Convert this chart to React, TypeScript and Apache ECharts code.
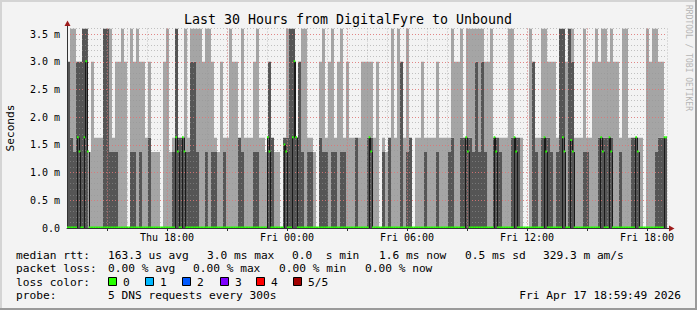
import React, { useEffect, useRef } from "react";
import * as echarts from "echarts";

// ---------------- data ----------------
const titleText = "Last 30 Hours from DigitalFyre to Unbound";
const yAxisName = "Seconds";
const watermarkText = "RRDTOOL / TOBI OETIKER";

const spanHours = 30; // Thu 13:00 -> Fri 19:00
const yMax = 3.6; // ms
const columnHours = 0.15; // smoke column width (hours)
const sampleHours = 5 / 60; // one probe every 300 s

// smoke band boundaries (ms)
const zoneLevels = [0, 1.37, 1.63, 3.0, 3.6];

// colour of each smoke band per column: d = dark smoke, l = light smoke, w = none
const zone1Colors = [
  "dddddddlll", "lldddddlll", "wddldlldll", "lwlllddddd", "ddddlldldd",
  "lldllllddl", "llddlllddl", "lwdddddddl", "ddlwdddldd", "lddllldlll",
  "ddllwdldll", "ldlddwllld", "llldlllddl", "lddddddddd", "lldddllldd",
  "dlwwlddldd", "ddldddlddl", "llddlllddd", "ddlldllldd", "dlwllldddd",
];
const zone2Colors = [
  "ddlddddwll", "llddllllll", "wlllllldww", "wwllwldddl", "lddlllllll",
  "wlllllldll", "llllllwddw", "wwddddddll", "llwwdlllll", "lllllldlll",
  "ddllwlwdll", "ldlldwllll", "lllllllldl", "lddddldldl", "llddlllldd",
  "dlwwldlldd", "dlllddlddl", "lllllllddd", "ddlllllldd", "llwllllddd",
];
const zone3Colors = [
  "dllddddwlw", "wwddlwllll", "wlllllwlww", "wwllwwdwwl", "wddllllllw",
  "wlwwlllwlw", "wwllwwwdww", "wwwlddwdll", "wwwwllwllw", "llwlwwwwll",
  "llwlwwwwlw", "ldwlwwwwlw", "wwwlwwwwll", "llwllldldl", "llwwwwwllw",
  "wwwwldwwll", "lllwddlddw", "wwlwwlllll", "llllwllwww", "wwwllllllw",
];
const zone4Colors = [
  "wllwwddwww", "wwddlwwwlw", "wlwlwwwwww", "wwwlwwdwwl", "wllllwllww",
  "wwwwlwwwlw", "wwwlwwwwww", "wwwlddwwll", "wwwwwlwwlw", "wlwwwwwwww",
  "wwwwwwwwlw", "lwwlwwwwww", "wwwwwwwwlw", "wlwllllllw", "wlwwwwwllw",
  "wwwwlwwwll", "wwwwddwdlw", "wwlwwwlwll", "wlwwwllwww", "wwwlwllwww",
];

// median rtt: non-zero samples (index of 5-minute sample, value in ms); all others 0
const medianSampleIndex = [
  6, 7, 10, 11, 12, 65, 66, 69, 70, 120, 121, 130, 131, 135, 136, 137, 181, 182, 239, 240,
  256, 257, 268, 269, 286, 287, 297, 298, 302, 303, 320, 321, 325, 326, 341, 342, 358, 359,
];
const medianSampleValue = [
  1.63, 1.37, 1.63, 3.0, 1.37, 1.63, 1.37, 1.63, 1.37, 1.63, 1.37, 1.5, 1.37, 1.63, 3.0, 1.63, 1.63, 1.37, 1.63, 1.37,
  1.63, 1.37, 1.63, 1.37, 1.63, 1.37, 1.63, 1.37, 1.58, 1.37, 1.63, 1.37, 1.63, 1.37, 1.63, 1.37, 1.63, 1.63,
];

const majorGridHours = [2, 5, 8, 11, 14, 17, 20, 23, 26, 29];
const xLabelHours = [5, 11, 17, 23, 29];
const xLabelTexts = ["Thu 18:00", "Fri 00:00", "Fri 06:00", "Fri 12:00", "Fri 18:00"];

const rttLabel = "median rtt:";
const rttItems = ["163.3 us avg", "3.0 ms max", "0.0  s min", "1.6 ms now", "0.5 ms sd", "329.3 m am/s"];
const lossLabel = "packet loss:";
const lossItems = ["0.00 % avg", "0.00 % max", "0.00 % min", "0.00 % now"];
const lossColorLabel = "loss color:";
const lossColorNames = ["0", "1", "2", "3", "4", "5/5"];
const lossColorValues = ["#26ff00", "#00b8ff", "#0059ff", "#7e00ff", "#ff0000", "#a10000"];
const probeLabel = "probe:";
const probeText = "5 DNS requests every 300s";
const dateText = "Fri Apr 17 18:59:49 2026";

// ---------------- layout / style ----------------
const W = 697;
const H = 310;
const FONT = "DejaVu Sans Mono";
const DARK = "#555555";
const LIGHT = "#a5a5a5";
const MINOR = "rgba(150,150,150,0.55)";
const MAJOR = "rgba(240,110,110,0.7)";
const AXIS = "#333333";
const ARROW = "#9e1b1b";
const GREEN = "#26ff00";
const legendFont = `11.2px "${FONT}"`;
const rttX = [108, 207, 292, 379, 465, 543];
const lossX = [108, 193, 279, 365];
const boxX = [108, 145, 182, 220, 256, 293];
const rowY = [255, 268.5, 282, 295.5];

function buildOption() {
  const zones = [zone1Colors, zone2Colors, zone3Colors, zone4Colors].map((z) => z.join(""));
  const nCols = zones[0].length;
  const smoke: number[][] = [];
  for (let c = 0; c < nCols; c++) {
    let z = 0;
    while (z < 4) {
      const ch = zones[z][c];
      let e = z;
      while (e + 1 < 4 && zones[e + 1][c] === ch) e++;
      if (ch !== "w") {
        smoke.push([c * columnHours, (c + 1) * columnHours, zoneLevels[z], zoneLevels[e + 1], ch === "d" ? 1 : 0]);
      }
      z = e + 1;
    }
  }

  const sampleCount = Math.round(spanHours / sampleHours);
  const med: number[] = new Array(sampleCount).fill(0);
  medianSampleIndex.forEach((k, i) => {
    med[k] = medianSampleValue[i];
  });
  const medData = med.map((v, k) => [k * sampleHours, v, k > 0 ? med[k - 1] : v]);

  const textEl = (text: string, x: number, y: number, align = "left", font = legendFont) => ({
    type: "text",
    x,
    y,
    silent: true,
    style: { text, fill: "#000", font, textAlign: align, textVerticalAlign: "middle" },
  });

  const graphic: any[] = [
    // frame shading
    { type: "rect", shape: { x: 0, y: 0, width: W, height: 2 }, style: { fill: "#d4d4d4" }, silent: true },
    { type: "rect", shape: { x: 0, y: 0, width: 2, height: H }, style: { fill: "#d4d4d4" }, silent: true },
    { type: "rect", shape: { x: W - 2, y: 0, width: 2, height: H }, style: { fill: "#9a9a9a" }, silent: true },
    { type: "rect", shape: { x: 0, y: H - 2, width: W, height: 2 }, style: { fill: "#9a9a9a" }, silent: true },
    // title
    textEl(titleText, 348, 19, "center", `13.3px "${FONT}"`),
    {
      type: "text",
      x: 10,
      y: 128,
      rotation: Math.PI / 2,
      silent: true,
      style: { text: yAxisName, fill: "#000", font: legendFont, textAlign: "center", textVerticalAlign: "middle" },
    },
    {
      type: "text",
      x: 688,
      y: 58,
      rotation: -Math.PI / 2,
      silent: true,
      style: { text: watermarkText, fill: "#b5b5b5", font: `8px "${FONT}"`, textAlign: "center", textVerticalAlign: "middle" },
    },
    // axis extensions and arrows
    { type: "line", shape: { x1: 67.5, y1: 29, x2: 67.5, y2: 24 }, style: { stroke: AXIS, lineWidth: 1 }, silent: true, z: 20 },
    { type: "polygon", shape: { points: [[64.5, 26], [70.5, 26], [67.5, 20.5]] }, style: { fill: ARROW }, silent: true, z: 21 },
    { type: "line", shape: { x1: 667, y1: 228.5, x2: 670, y2: 228.5 }, style: { stroke: AXIS, lineWidth: 1 }, silent: true, z: 20 },
    { type: "polygon", shape: { points: [[669, 225.5], [669, 231.5], [674.5, 228.5]] }, style: { fill: ARROW }, silent: true, z: 21 },
    // legend
    textEl(rttLabel, 16, rowY[0]),
    ...rttItems.map((t, i) => textEl(t, rttX[i], rowY[0])),
    textEl(lossLabel, 16, rowY[1]),
    ...lossItems.map((t, i) => textEl(t, lossX[i], rowY[1])),
    textEl(lossColorLabel, 16, rowY[2]),
    ...lossColorNames.map((t, i) => textEl(t, boxX[i] + 15, rowY[2])),
    ...lossColorValues.map((c, i) => ({
      type: "rect",
      silent: true,
      shape: { x: boxX[i] + 0.5, y: rowY[2] - 4.5, width: 8, height: 8 },
      style: { fill: c, stroke: "#000", lineWidth: 1 },
    })),
    textEl(probeLabel, 16, rowY[3]),
    textEl(probeText, 108, rowY[3]),
    textEl(dateText, 681, rowY[3], "right"),
  ];

  return {
    animation: false,
    backgroundColor: "#f3f3f3",
    grid: { left: 67, right: 30, top: 28.5, bottom: 82, containLabel: false, outerBoundsMode: "none" },
    xAxis: [
      {
        type: "value",
        min: 0,
        max: spanHours,
        interval: 1,
        z: 2,
        axisLine: { show: false },
        axisTick: { show: false },
        axisLabel: { show: false },
        splitLine: { show: true, lineStyle: { color: MINOR, width: 1, type: [1, 2] } },
      },
      {
        type: "value",
        min: 0,
        max: spanHours,
        position: "bottom",
        z: 4,
        axisLine: { show: true, lineStyle: { color: AXIS, width: 1 } },
        axisTick: { show: true, customValues: majorGridHours, length: 3, lineStyle: { color: AXIS } },
        axisLabel: {
          customValues: xLabelHours,
          formatter: (v: number) => {
            const i = xLabelHours.indexOf(Math.round(v));
            return i >= 0 ? xLabelTexts[i] : "";
          },
          fontFamily: FONT,
          fontSize: 10,
          color: "#000",
          margin: 4,
        },
        splitLine: { show: true, lineStyle: { color: MAJOR, width: 1, type: [1, 2] } },
      },
    ],
    yAxis: [
      {
        type: "value",
        min: 0,
        max: yMax,
        interval: 0.5,
        z: 4,
        axisLine: { show: true, lineStyle: { color: AXIS, width: 1 } },
        axisTick: { show: false },
        axisLabel: {
          formatter: (v: number) => (v === 0 ? "0.0" : v.toFixed(1) + " m"),
          fontFamily: FONT,
          fontSize: 10,
          color: "#000",
          margin: 7,
          showMaxLabel: false,
        },
        splitLine: { show: true, showMaxLine: false, showMinLine: false, lineStyle: { color: MAJOR, width: 1, type: [1, 2] } },
      },
      {
        type: "value",
        min: 0,
        max: yMax,
        interval: 0.1,
        z: 2,
        axisLine: { show: false },
        axisTick: { show: false },
        axisLabel: { show: false },
        splitLine: { show: true, showMinLine: false, lineStyle: { color: MINOR, width: 1, type: [1, 2] } },
      },
    ],
    series: [
      {
        type: "custom",
        name: "smoke",
        xAxisIndex: 0,
        yAxisIndex: 0,
        z: 1,
        silent: true,
        clip: true,
        encode: { x: [0, 1], y: [2, 3] },
        data: smoke,
        renderItem: (params: any, api: any) => {
          const p0 = api.coord([api.value(0), api.value(3)]);
          const p1 = api.coord([api.value(1), api.value(2)]);
          return {
            type: "rect",
            shape: { x: Math.round(p0[0]), y: p0[1], width: Math.round(p1[0]) - Math.round(p0[0]), height: p1[1] - p0[1] },
            style: { fill: api.value(4) ? DARK : LIGHT },
          };
        },
      },
      {
        type: "custom",
        name: "median",
        xAxisIndex: 0,
        yAxisIndex: 0,
        z: 6,
        silent: true,
        clip: true,
        encode: { x: 0, y: 1 },
        data: medData,
        renderItem: (params: any, api: any) => {
          const t = api.value(0);
          const v = api.value(1);
          const p = api.value(2);
          const a = api.coord([t, v]);
          const b = api.coord([t + sampleHours, v]);
          const children: any[] = [];
          if (p !== v) {
            const c = api.coord([t, p]);
            const x = Math.round(a[0]) + 0.5;
            children.push({
              type: "line",
              shape: { x1: x, y1: c[1], x2: x, y2: a[1] },
              style: { stroke: "#1a1a1a", lineWidth: 1 },
            });
          }
          children.push({
            type: "line",
            shape: { x1: a[0], y1: a[1] - 0.5, x2: b[0], y2: b[1] - 0.5 },
            style: { stroke: GREEN, lineWidth: 2 },
          });
          return { type: "group", children };
        },
      },
    ],
    graphic,
  };
}

export default function App() {
  const ref = useRef<HTMLDivElement>(null);
  useEffect(() => {
    document.body.style.margin = "0";
    const chart = echarts.init(ref.current as HTMLDivElement, null, { renderer: "svg", width: W, height: H });
    chart.setOption(buildOption() as any);
    return () => chart.dispose();
  }, []);
  return <div ref={ref} style={{ width: W, height: H }} />;
}
